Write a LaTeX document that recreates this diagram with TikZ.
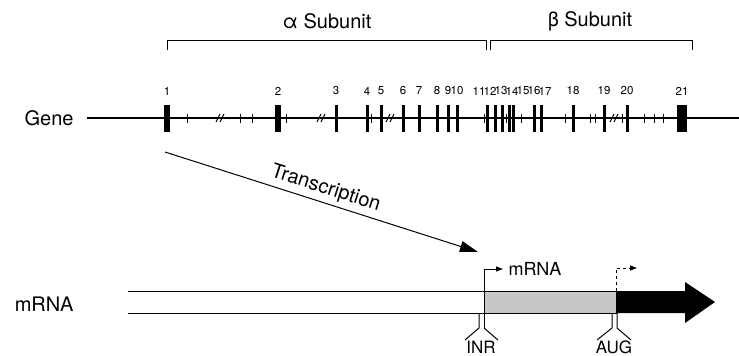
\documentclass[tikz,border=0pt]{standalone}
\usepackage{fontspec}
\setmainfont{TeX Gyre Heros}
\usetikzlibrary{arrows.meta,calc,positioning}

\begin{document}
\begin{tikzpicture}[x=1pt,y=-1pt,line width=1pt,
  numlabel/.style={font=\fontsize{11.5}{13}\selectfont,inner sep=0pt},
  biglabel/.style={font=\fontsize{20}{24}\selectfont,inner sep=0pt},
  sitelabel/.style={font=\fontsize{17}{20}\selectfont,inner sep=0pt},
  help lines/.style={line width=0.9pt,draw=black}]
\colorlet{utr}{black!22}
\useasboundingbox (0,0) rectangle (739,356);
% subunit brackets
\draw [help lines] (167,50) |- (486,40) -- (486,50);
\draw [help lines] (490,50) |- (692,40) -- (692,50);
\node [biglabel] (alpha) at (327,21) {α Subunit};
\node [biglabel] (beta) at (590,21) {β Subunit};
% gene
\node [biglabel,anchor=east] (gene) at (74,118) {Gene};
\coordinate (G0) at (87,118);
\coordinate (G1) at (739,118);
\draw [line width=1.2pt] (G0) -- (G1);
\foreach \x in {187,240,252,286,371,484,506,521,565,590,595,622,644,654,663}
  \draw (\x,114) -- (\x,123);
\foreach \x in {221,322,391,615}
  {\draw (\x-5,122) -- (\x-1,114); \draw (\x-1,122) -- (\x+3,114);}
\foreach \x/\w/\lx/\n in {167/6/167/1,278/6/278/2,336/3/336/3,367/3/367/4,
  381/3/381/5,403/3/403/6,419/3/419/7,437/3/437/8,448/3/448/9,457/3/457/10,
  487/3/479/11,495/3/490/12,502/3/501/13,509/3/512/14,513/3/523/15,
  534/3/534/16,541/3/545/17,573/3/573/18,604/3/604/19,627/3/627/20,682/10/682/21}
  {\fill (\x-\w/2,105) rectangle (\x+\w/2,132);
   \node [numlabel] (e\n) at (\lx,91) {\n};}
% transcription
\coordinate (T0) at (165,152);
\coordinate (T1) at (478,252);
\draw [-{Triangle[length=18pt,width=11pt]}] (T0) -- node [biglabel,sloped,above=4pt] (tr) {Transcription} (T1);
% mRNA
\node [biglabel,anchor=east] (mrna) at (74,304) {mRNA};
\coordinate (M0) at (128,291);
\coordinate (INR) at (484,291);
\coordinate (AUG) at (616,291);
\draw (M0) -- (INR);
\draw (M0 |- 0,313) -- (INR |- 0,313);
\filldraw [fill=utr] (INR) rectangle (616,313);
\fill (AUG) -- (685,291) -- (685,282) -- (715,302) -- (685,323) -- (685,313) -- (616,313) -- cycle;
% start sites
\draw [-{Triangle[length=7pt,width=5pt]}] (484,328) -- (484,269) -- (503,269);
\node [sitelabel,font=\fontsize{18}{21}\selectfont,anchor=west] (tx) at (508,269) {mRNA};
\draw (484,328) -- (498,340);
\draw (479,313) -- (479,328) -- (465,340);
\node [sitelabel,anchor=base] (inr) at (481,353) {INR};
\draw [dash pattern=on 3pt off 3pt,-{Triangle[length=7pt,width=5pt]}] (AUG) -- (616,268) -- (637,268);
\draw (612,313) -- (612,328) -- (597,340);
\draw (617,313) -- (617,328) -- (631,340);
\node [sitelabel,anchor=base] (aug) at (614,353) {AUG};
\end{tikzpicture}
\end{document}
